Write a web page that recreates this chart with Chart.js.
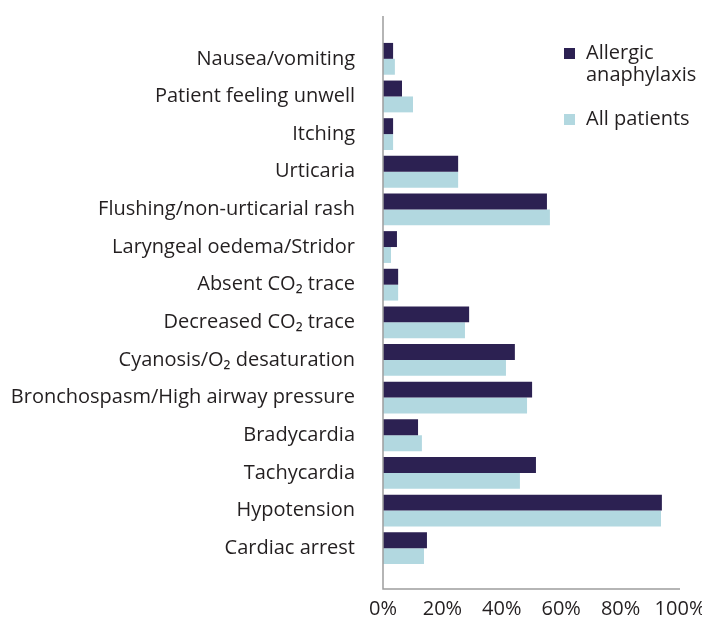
<!DOCTYPE html>
<html>
<head>
<meta charset="utf-8">
<script src="https://cdn.jsdelivr.net/npm/chart.js@4/dist/chart.umd.min.js"></script>
<style>
  html, body { margin: 0; padding: 0; background: #fff; overflow: hidden; }
  canvas { display: block; }
</style>
</head>
<body>
<canvas id="bars" width="702" height="620"></canvas>
<script>
const symptoms = [
    'Nausea/vomiting',
    'Patient feeling unwell',
    'Itching',
    'Urticaria',
    'Flushing/non-urticarial rash',
    'Laryngeal oedema/Stridor',
    'Absent CO\u2082 trace',
    'Decreased CO\u2082 trace',
    'Cyanosis/O\u2082 desaturation',
    'Bronchospasm/High airway pressure',
    'Bradycardia',
    'Tachycardia',
    'Hypotension',
    'Cardiac arrest'
];
const allergic = [3.4, 6.4, 3.4, 25.3, 55.2, 4.7, 5.1, 29.0, 44.4, 50.2, 11.8, 51.5, 93.9, 14.8];
const allPatients = [4.0, 10.1, 3.4, 25.3, 56.2, 2.7, 5.1, 27.6, 41.4, 48.5, 13.1, 46.1, 93.6, 13.8];
const seriesNames = [['Allergic', 'anaphylaxis'], ['All patients']];
const xTicks = [0, 20, 40, 60, 80, 100];

const FONT = '"Open Sans"';
const TEXT = '#231f20';

// axis lines run past the bars at both ends, like the original
const axisLines = {
    id: 'axisLines',
    afterDraw(chart) {
        const {ctx, chartArea: a} = chart;
        ctx.save();
        ctx.strokeStyle = '#9d9d9d';
        ctx.lineWidth = 1.5;
        ctx.beginPath();
        ctx.moveTo(a.left, a.top - 24);
        ctx.lineTo(a.left, a.bottom + 22);
        ctx.lineTo(a.right, a.bottom + 22);
        ctx.stroke();
        ctx.restore();
    }
};

// legend drawn top right, first label on two lines
const sideLegend = {
    id: 'sideLegend',
    afterDraw(chart) {
        const ctx = chart.ctx;
        const x = 564;
        let y = 48;
        ctx.save();
        ctx.font = '20px ' + FONT;
        ctx.textBaseline = 'middle';
        chart.data.datasets.forEach((ds, i) => {
            ctx.fillStyle = ds.backgroundColor;
            ctx.fillRect(x, y, 11, 11);
            ctx.fillStyle = TEXT;
            seriesNames[i].forEach((line, j) => {
                ctx.fillText(line, x + 22, y + 5 + j * 22);
            });
            y += 66;
        });
        ctx.restore();
    }
};

new Chart(document.getElementById('bars'), {
    type: 'bar',
    data: {
        labels: symptoms,
        datasets: [
            {
                label: 'Allergic anaphylaxis',
                data: allergic,
                backgroundColor: '#2c2152'
            },
            {
                label: 'All patients',
                data: allPatients,
                backgroundColor: '#b2d8e0'
            }
        ]
    },
    options: {
        indexAxis: 'y',
        responsive: false,
        animation: false,
        layout: {
            padding: { top: 37, right: 0, bottom: 0, left: 0 }
        },
        datasets: {
            bar: {
                barPercentage: 1,
                categoryPercentage: 0.845,
                borderWidth: 0
            }
        },
        plugins: {
            legend: { display: false },
            tooltip: { enabled: false }
        },
        scales: {
            x: {
                min: 0,
                max: 100,
                afterBuildTicks: scale => {
                    scale.ticks = xTicks.map(v => ({ value: v }));
                },
                afterFit: scale => {
                    scale.height = 53;
                    scale.paddingLeft = 0;
                    scale.paddingRight = 22;
                },
                grid: { display: false, drawTicks: false },
                border: { display: false },
                ticks: {
                    padding: 30,
                    maxRotation: 0,
                    color: TEXT,
                    font: { family: FONT, size: 20 },
                    callback: v => v + '%'
                }
            },
            y: {
                afterFit: scale => { scale.width = 383; },
                grid: { display: false, drawTicks: false },
                border: { display: false },
                ticks: {
                    padding: 28,
                    color: TEXT,
                    font: { family: FONT, size: 20 }
                }
            }
        }
    },
    plugins: [axisLines, sideLegend]
});
</script>
</body>
</html>
